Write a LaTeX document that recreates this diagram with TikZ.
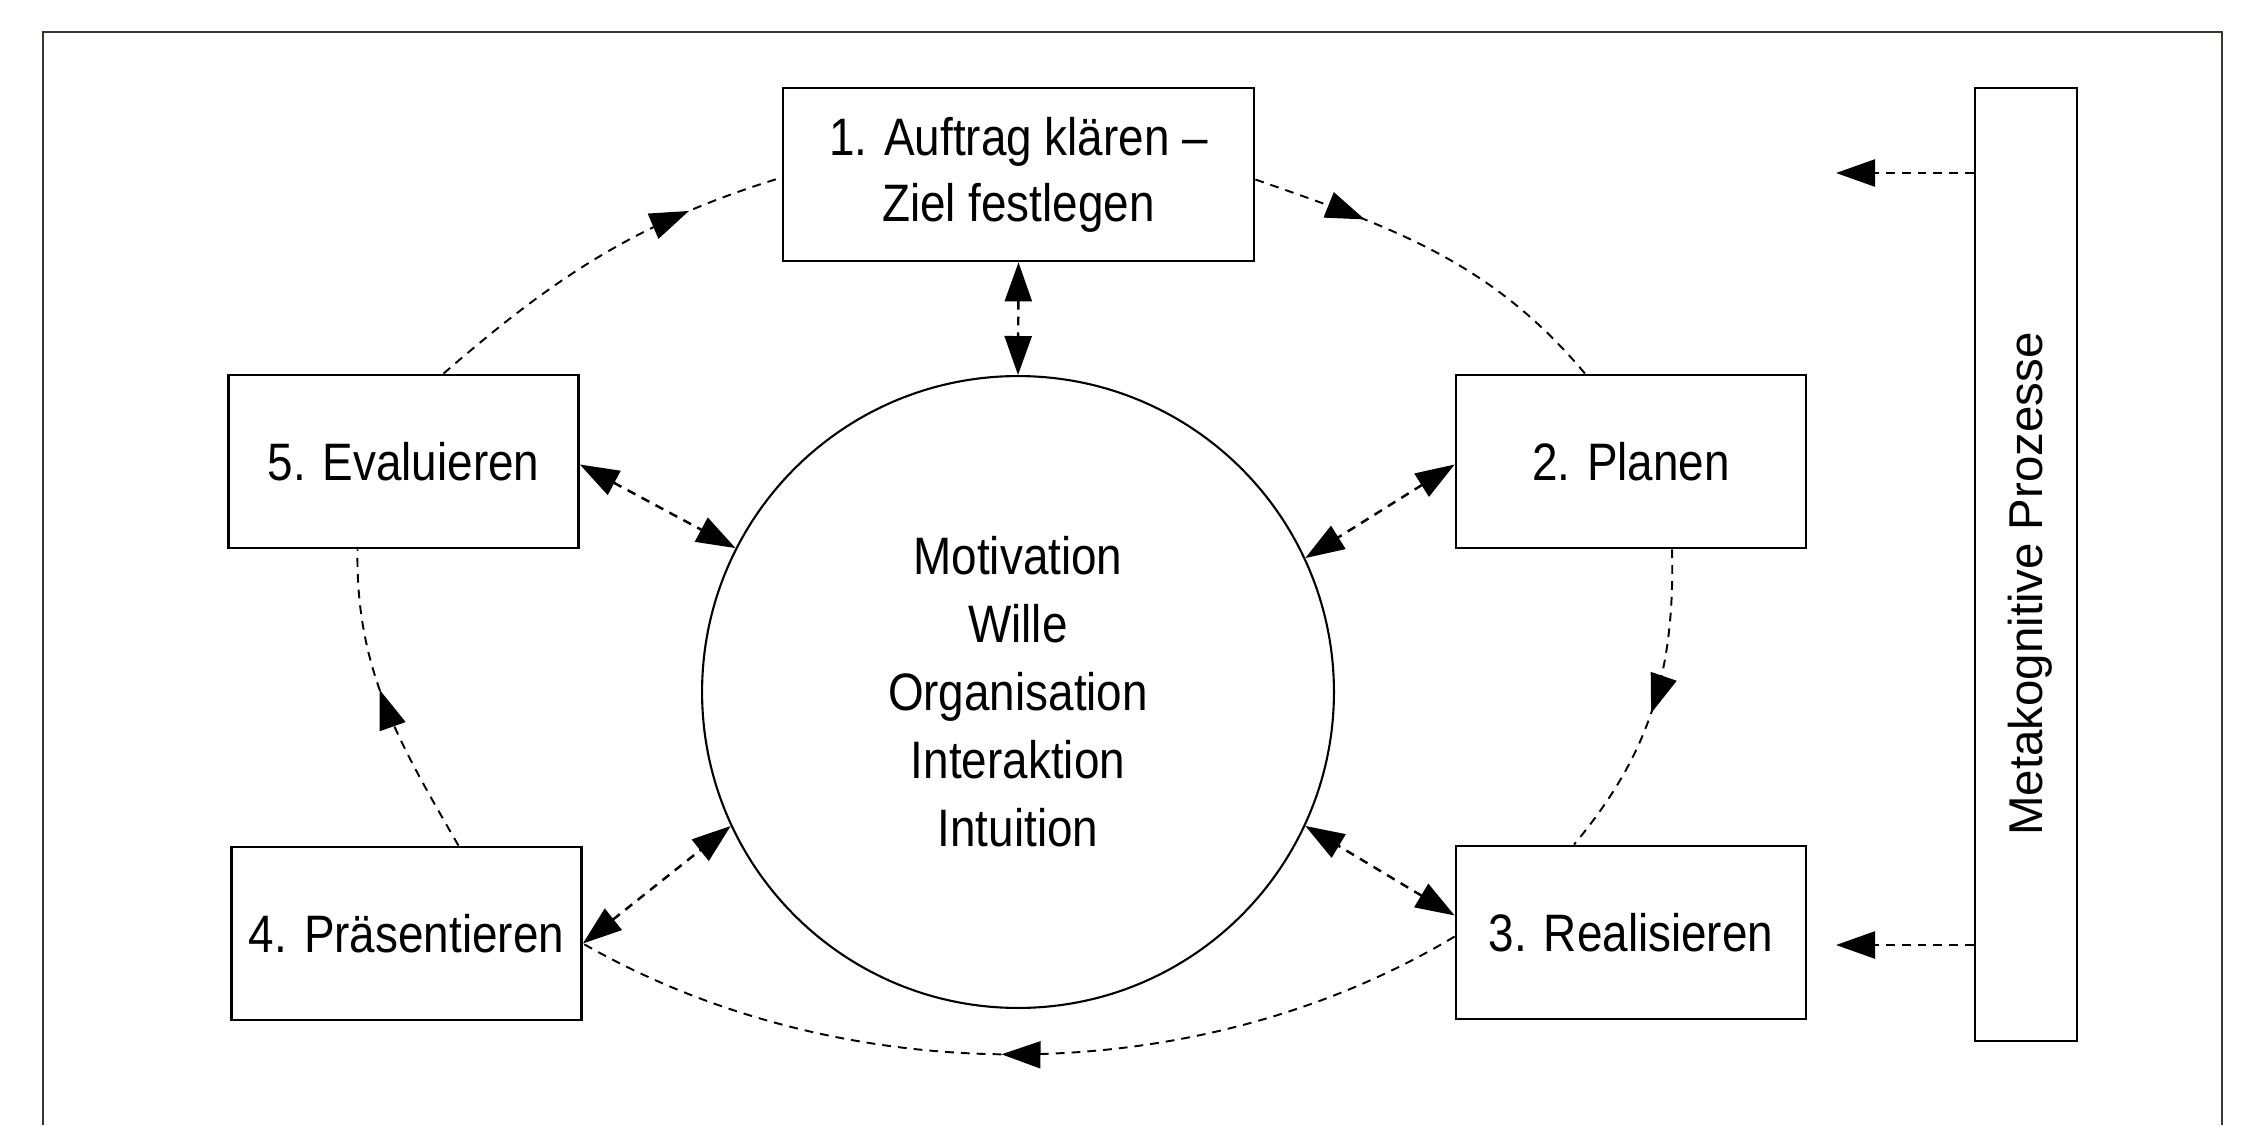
\documentclass[tikz,border=0pt]{standalone}
\usepackage{fontspec}
\setmainfont{Liberation Sans}[FakeStretch=0.87]
\newfontfamily\metafont{Liberation Sans}
\usetikzlibrary{arrows.meta,decorations.markings,calc}
\definecolor{framec}{RGB}{52,56,48}
\begin{document}
\begin{tikzpicture}[x=0.02cm,y=-0.02cm,
  >={Triangle[length=0.78cm,width=0.54cm]},
  boxtxt/.style={font=\fontsize{30}{37.5}\selectfont},
  box/.style={draw,line width=1.6pt,minimum width=7cm,minimum height=3.46cm,
    align=center,inner sep=0pt,boxtxt},
  spoke/.style={line width=1.4pt,dash pattern=on 5pt off 4pt,<->},
  cyc/.style={line width=1.1pt,dash pattern=on 5pt off 4pt,
    postaction={decorate,decoration={markings,
      mark=at position #1 with {\arrow{>}}}}},
  metaarrow/.style={line width=1.4pt,dash pattern=on 5pt off 4pt,->}]
\useasboundingbox (0,0) rectangle (2260,1125);
% frame
\draw[framec,line width=1.5pt] (43,1125) -- (43,32) -- (2222,32) -- (2222,1125);
% nodes
\node[box,minimum width=9.42cm] (b1) at (1018.5,174.5) {1. Auftrag klären --\\Ziel festlegen};
\node[box] (b2) at (1631,461.5) {2. Planen};
\node[box] (b3) at (1631,932.5) {3. Realisieren};
\node[box] (b4) at (406.5,933.5) {4. Präsentieren};
\node[box] (b5) at (403.5,461.5) {5. Evaluieren};
\node[circle,draw,line width=1.2pt,minimum size=12.64cm,inner sep=0pt,align=center,
  font=\fontsize{30}{38.7}\selectfont] (c) at (1018,692)
  {Motivation\\Wille\\Organisation\\Interaktion\\Intuition};
\node[draw,line width=1.4pt,minimum width=2.04cm,minimum height=19.06cm,inner sep=0pt] (meta) at (2026,564.5) {};
\node[rotate=90,font=\metafont\fontsize{27}{30}\selectfont] (metatxt) at (2030,584) {Metakognitive Prozesse};
% spokes
\draw[spoke] (b1.south) -- (c.north);
\draw[spoke] ($(b5.east)+(0,3)$) -- (c.153);
\draw[spoke] ($(b2.west)+(0,3)$) -- (c.25);
\draw[spoke] ($(b4.east)+(0,10)$) -- (c.205);
\draw[spoke] ($(b3.west)+(0,-17)$) -- (c.335);
% cycle
\draw[cyc=0.75] ($(b5.north)+(40,0)$) .. controls +(113,-98) and +(-143,44) .. ($(b1.west)+(0,3)$);
\draw[cyc=0.3] ($(b1.east)+(0,5)$) .. controls +(138,48) and +(-94,-112) .. ($(b2.north)+(-46,0)$);
\draw[cyc=0.52] ($(b2.south)+(41,0)$) .. controls +(3,120) and +(77,-92) .. ($(b3.north)+(-57,0)$);
\draw[cyc=0.52] ($(b3.west)+(0,4)$) .. controls +(-260,156) and +(260,149) .. ($(b4.east)+(0,10)$);
\draw[cyc=0.55] ($(b4.north)+(52,0)$) .. controls +(-60,-104) and +(-2,120) .. ($(b5.south)+(-46,0)$);
% meta arrows
\coordinate (m1) at (1836,173);
\coordinate (m2) at (1836,945);
\draw[metaarrow] (meta.west |- m1) -- (m1);
\draw[metaarrow] (meta.west |- m2) -- (m2);
\end{tikzpicture}
\end{document}
